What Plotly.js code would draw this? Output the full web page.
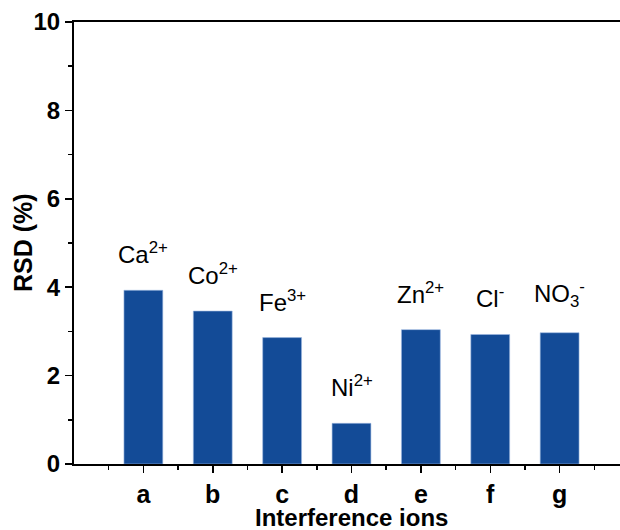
<!DOCTYPE html>
<html>
<head>
<meta charset="utf-8">
<script src="https://cdn.plot.ly/plotly-3.0.1.min.js"></script>
<style>
html,body{margin:0;padding:0;overflow:hidden;background:#fff;width:620px;height:530px;}
#chart{width:640px;height:530px;}
</style>
</head>
<body>
<div id="chart"></div>
<script>
const categories = ['a','b','c','d','e','f','g'];
const rsdValues = [3.93, 3.46, 2.86, 0.92, 3.04, 2.93, 2.97];
const ionLabels = ['Ca<sup>2+</sup>','Co<sup>2+</sup>','Fe<sup>3+</sup>','Ni<sup>2+</sup>','Zn<sup>2+</sup>','Cl<sup>-</sup>','NO<sub>3</sub><sup>-</sup>'];
const yTicks = [0, 2, 4, 6, 8, 10];
const xTitle = 'Interference ions';
const yTitle = 'RSD (%)';

const xPos = categories.map((c, i) => i);
const font = 'Liberation Sans, Arial, sans-serif';

const trace = {
  type: 'bar',
  x: xPos,
  y: rsdValues,
  width: 0.56,
  marker: {color: '#134b97', line: {color: '#9db8e0', width: 0.6}},
  hoverinfo: 'skip'
};

const annotations = ionLabels.map((t, i) => ({
  x: xPos[i], y: rsdValues[i], xref: 'x', yref: 'y',
  text: t, showarrow: false, yanchor: 'bottom', xanchor: 'center', yshift: 20,
  font: {family: font, size: 24, color: '#000'}
}));
annotations.push({
  x: 0, y: 0.5, xref: 'paper', yref: 'paper', xshift: -51,
  text: '<b>' + yTitle + '</b>', textangle: -90, showarrow: false,
  xanchor: 'center', yanchor: 'middle',
  font: {family: font, size: 25, color: '#000'}
});
annotations.push({
  x: 0.5, y: 0, xref: 'paper', yref: 'paper', yshift: -53,
  text: '<b>' + xTitle + '</b>', showarrow: false,
  xanchor: 'center', yanchor: 'middle',
  font: {family: font, size: 24, color: '#000'}
});

const layout = {
  width: 640, height: 530,
  margin: {l: 74, r: 11, t: 22, b: 66},
  paper_bgcolor: '#fff', plot_bgcolor: '#fff',
  showlegend: false,
  font: {family: font, color: '#000'},
  xaxis: {
    range: [-1, 7],
    tickmode: 'array', tickvals: xPos, ticktext: categories,
    ticks: 'outside', ticklen: 7, tickwidth: 1.5, tickcolor: '#000',
    minor: {tick0: -0.5, dtick: 1, ticks: 'outside', ticklen: 4, tickwidth: 1.5, tickcolor: '#000'},
    showline: true, linecolor: '#000', linewidth: 2, mirror: true,
    showgrid: false, zeroline: false,
    tickfont: {family: font, size: 25, color: '#000', weight: 'bold'}
  },
  yaxis: {
    range: [0, 10],
    tickmode: 'array', tickvals: yTicks,
    ticks: 'outside', ticklen: 7, tickwidth: 1.5, tickcolor: '#000',
    minor: {dtick: 1, ticks: 'outside', ticklen: 4, tickwidth: 1.5, tickcolor: '#000'},
    showline: true, linecolor: '#000', linewidth: 2, mirror: true,
    showgrid: false, zeroline: false,
    tickfont: {family: font, size: 24, color: '#000', weight: 'bold'}
  },
  annotations: annotations
};

Plotly.newPlot('chart', [trace], layout, {displayModeBar: false, staticPlot: true});
</script>
</body>
</html>
